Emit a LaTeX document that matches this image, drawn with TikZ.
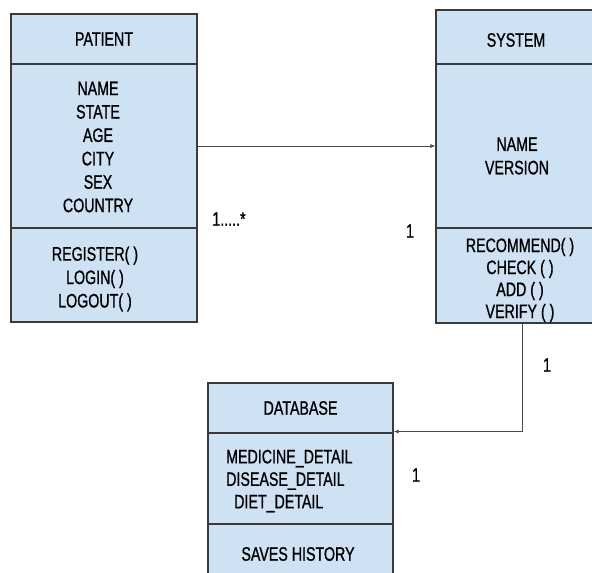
\documentclass[tikz,border=0pt]{standalone}
\usepackage{fontspec}
\setmainfont{Liberation Sans}[FakeStretch=0.73, FakeBold=0.9]
\usetikzlibrary{arrows.meta}
\definecolor{boxfill}{HTML}{CFE2F3}
\definecolor{boxline}{HTML}{3A3A3A}
\definecolor{wire}{HTML}{4A4A4A}
\tikzset{
  compart/.style={draw=boxline, fill=boxfill, line width=1.1pt, inner sep=0pt,
    rectangle, align=center, font=\fontsize{19.5}{23.4}\selectfont},
  plain/.style={inner sep=0pt, align=center, font=\fontsize{19.5}{23.4}\selectfont},
  arr/.style={draw=wire, line width=1pt, -{Latex[length=5pt,width=4pt]}},
  mult/.style={inner sep=0pt, font=\fontsize{19.5}{23.4}\selectfont}
}
\begin{document}
\begin{tikzpicture}[x=1pt, y=-1pt]
\useasboundingbox (0,0) rectangle (592,573);
\clip (0,0) rectangle (592,573);
\fill[white] (0,0) rectangle (592,573);

% PATIENT class
\node[compart, minimum width=186pt, minimum height=50pt]  (pat-h) at (104,39)  {PATIENT};
\node[compart, minimum width=186pt, minimum height=164pt] (pat-a) at (104,146) {};
\node[plain] (pat-atxt) at (98,147) {NAME\\STATE\\AGE\\CITY\\SEX\\COUNTRY};
\node[compart, minimum width=186pt, minimum height=94pt]  (pat-m) at (104,275) {};
\node[plain] (pat-mtxt) at (95,279) {REGISTER( )\\LOGIN( )\\LOGOUT( )};

% SYSTEM class
\node[compart, minimum width=172pt, minimum height=54pt]  (sys-h) at (522,37)  {};
\node[plain] (sys-htxt) at (516,40) {SYSTEM};
\node[compart, minimum width=172pt, minimum height=164pt] (sys-a) at (522,146) {};
\node[plain] (sys-atxt) at (517,156) {NAME\\VERSION};
\node[compart, minimum width=172pt, minimum height=95pt]  (sys-m) at (522,275.5) {};
\node[plain, font=\fontsize{19.5}{22}\selectfont] (sys-mtxt) at (520,280) {RECOMMEND( )\\CHECK ( )\\ADD ( )\\VERIFY ( )};

% DATABASE class
\node[compart, minimum width=185pt, minimum height=50pt] (db-h) at (300.5,408) {DATABASE};
\node[compart, minimum width=185pt, minimum height=91pt] (db-a) at (300.5,478.5) {};
\node[plain, anchor=west, align=left, font=\fontsize{19.5}{22.5}\selectfont] (db-atxt) at (226,481)
  {MEDICINE\_DETAIL\\DISEASE\_DETAIL\\\hspace*{8pt}DIET\_DETAIL};
\node[compart, minimum width=185pt, minimum height=70pt] (db-m) at (300.5,559) {};
\node[plain] (db-mtxt) at (298,554) {SAVES HISTORY};

% associations
\draw[arr] (pat-a.east) -- (pat-a.east -| sys-a.west);
\draw[arr] (sys-m.south) |- ([yshift=2pt]db-h.south east);

% multiplicities
\node[mult] (m1) at (229,219) {1.....*};
\node[mult] (m2) at (410,231) {1};
\node[mult] (m3) at (547,365) {1};
\node[mult] (m4) at (416,475) {1};
\end{tikzpicture}
\end{document}
